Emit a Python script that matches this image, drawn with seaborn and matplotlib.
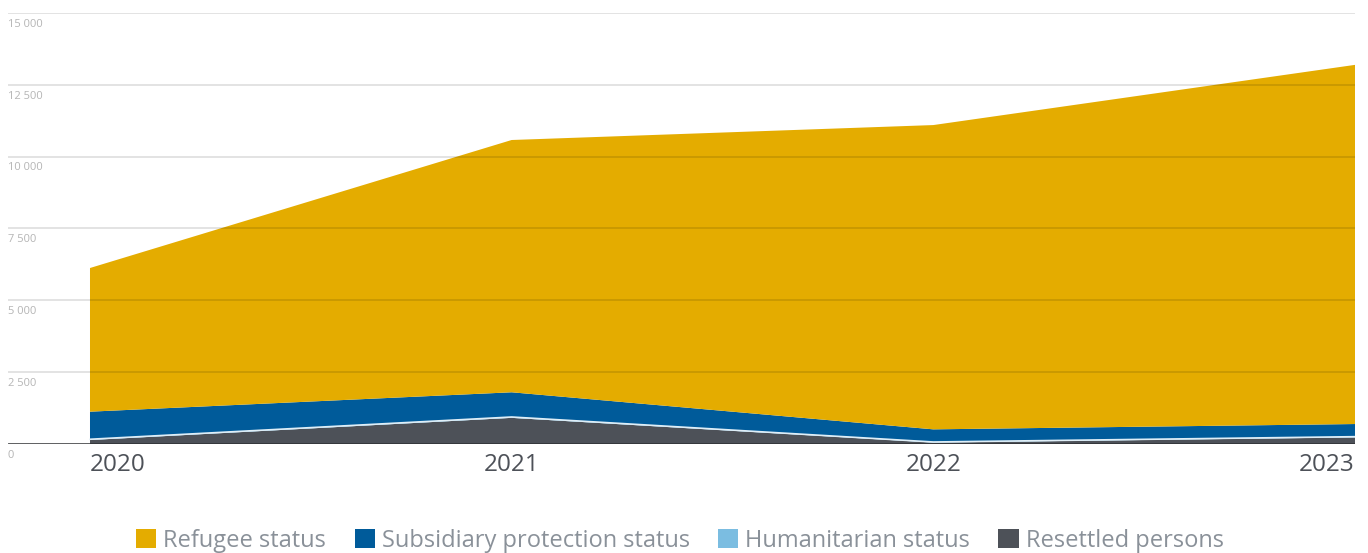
import numpy as np
import matplotlib.pyplot as plt
import seaborn as sns
from matplotlib.patches import Patch

years = [2020, 2021, 2022, 2023]
resettled = [140, 910, 50, 230]
humanitarian = [25, 30, 20, 25]
subsidiary = [960, 860, 440, 440]
refugee = [5000, 8780, 10590, 12500]

series_names = ["Resettled persons", "Humanitarian status",
                "Subsidiary protection status", "Refugee status"]
colors = ["#4d5158", "#7bbde1", "#005b9a", "#e4ac00"]
legend_order = [3, 2, 1, 0]

yticks = [0, 2500, 5000, 7500, 10000, 12500, 15000]
ytick_labels = ["0", "2 500", "5 000", "7 500", "10 000", "12 500", "15 000"]

sns.set_style("white")
plt.rcParams['font.family'] = ['Open Sans', 'DejaVu Sans']

fig = plt.figure(figsize=(13.68, 5.53), dpi=100)
ax = fig.add_axes([8/1368, 1 - 444/553, (1355 - 8)/1368, (444 - 13)/553])

ax.stackplot(years, resettled, humanitarian, subsidiary, refugee,
             colors=colors, edgecolor="none", zorder=1)
# thin light edge on top of resettled persons
tops = np.cumsum([resettled, humanitarian], axis=0)
ax.plot(years, tops[1], color="#dfeef7", lw=1.2, zorder=2)

ax.set_xlim(2020 - 82/421.7, 2023)
ax.set_ylim(0, 15000)

for v, lab in zip(yticks, ytick_labels):
    if v > 0:
        ax.axhline(v, color="black", alpha=0.13, lw=1.2, zorder=3)
    ax.text(0.0, v - 200, lab, transform=ax.get_yaxis_transform(),
            ha="left", va="top", fontsize=8, color="#b5b5b5")
ax.axhline(0, color="#2e3033", lw=1.8, zorder=4)

ax.set_xticks([])
ax.set_yticks([])
for i, yr in enumerate(years):
    ha = "left" if i == 0 else ("right" if i == len(years) - 1 else "center")
    ax.text(yr, -330, str(yr), ha=ha, va="top", fontsize=17.5, color="#4d5158")

for s in ax.spines.values():
    s.set_visible(False)

handles = [Patch(facecolor=colors[i], edgecolor="none") for i in legend_order]
labels = [series_names[i] for i in legend_order]
leg = fig.legend(handles, labels, loc="center", bbox_to_anchor=(0.497, 1 - 541/553),
                 ncol=4, frameon=False, fontsize=17, handlelength=0.85,
                 handleheight=0.85, handletextpad=0.3, columnspacing=1.2)
for t in leg.get_texts():
    t.set_color("#8a9199")

fig.savefig("out.png", dpi=100)
